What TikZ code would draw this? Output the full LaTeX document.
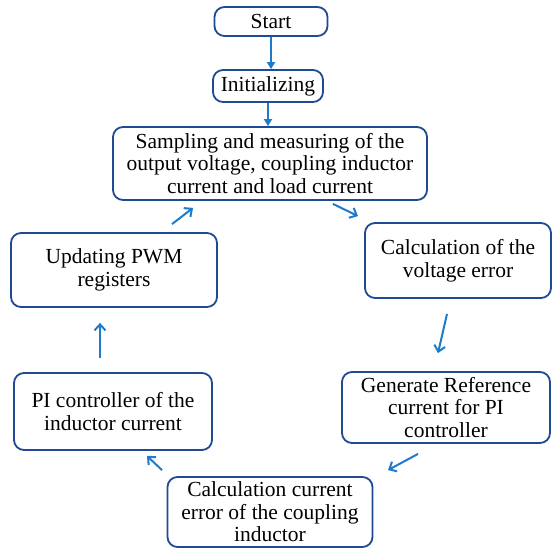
\documentclass[tikz,border=0pt]{standalone}
\usepackage{fontspec}
\setmainfont{Liberation Serif}
\usetikzlibrary{arrows.meta}
\definecolor{boxblue}{HTML}{1F4A94}
\definecolor{arrblue}{HTML}{1E7BCB}
\tikzset{
  stepbox/.style={draw=boxblue,line width=1.8pt,rounded corners=10pt,fill=white,align=center,
    font=\fontsize{21.5}{22.5}\selectfont,inner sep=1pt},
  flow/.style={draw=arrblue,line width=2pt,-{Straight Barb[length=6pt,width=11pt]}},
  flowdown/.style={draw=arrblue,line width=1.8pt,-{Triangle[length=7pt,width=8pt]}}
}
\begin{document}
\begin{tikzpicture}[x=1pt,y=-1pt]
\useasboundingbox (0,0) rectangle (553,549);
\node[stepbox,minimum width=113pt,minimum height=29pt] (start) at (271,21.5) {Start};
\node[stepbox,minimum width=110pt,minimum height=32pt] (init) at (268,86) {Initializing};
\node[stepbox,minimum width=314pt,minimum height=73pt] (samp) at (270,163.5) {Sampling and measuring of the\\output voltage, coupling inductor\\current and load current};
\node[stepbox,minimum width=186pt,minimum height=75pt] (volt) at (458,260.5) {Calculation of the\\voltage error};
\node[stepbox,minimum width=208pt,minimum height=71pt] (gen) at (446,407.5) {Generate Reference\\current for PI\\controller};
\node[stepbox,minimum width=205pt,minimum height=70pt] (cerr) at (270,512) {Calculation current\\error of the coupling\\inductor};
\node[stepbox,minimum width=198pt,minimum height=77pt] (pi) at (113,411.5) {PI controller of the\\inductor current};
\node[stepbox,minimum width=206pt,minimum height=74pt] (upd) at (114,270) {Updating PWM\\registers};
% connectors
\draw[flowdown] (start.south) -- (start.south |- init.north);
\draw[flowdown] (init.south) -- (init.south |- samp.north);
\draw[flow] ([shift={(63,3)}]samp.south) -- ([shift={(-100,-6)}]volt.north);
\draw[flow] ([shift={(-11,15)}]volt.south) -- ([shift={(-8,-18)}]gen.north);
\draw[flow] ([shift={(-28,10)}]gen.south) -- ([shift={(118,-6)}]cerr.north);
\draw[flow] ([shift={(-108,-6)}]cerr.north) -- ([shift={(34,5)}]pi.south);
\draw[flow] ([shift={(-13,-14)}]pi.north) -- ([shift={(-14,15)}]upd.south);
\draw[flow] ([shift={(58,-8)}]upd.north) -- ([shift={(-77,7)}]samp.south);
\end{tikzpicture}
\end{document}
